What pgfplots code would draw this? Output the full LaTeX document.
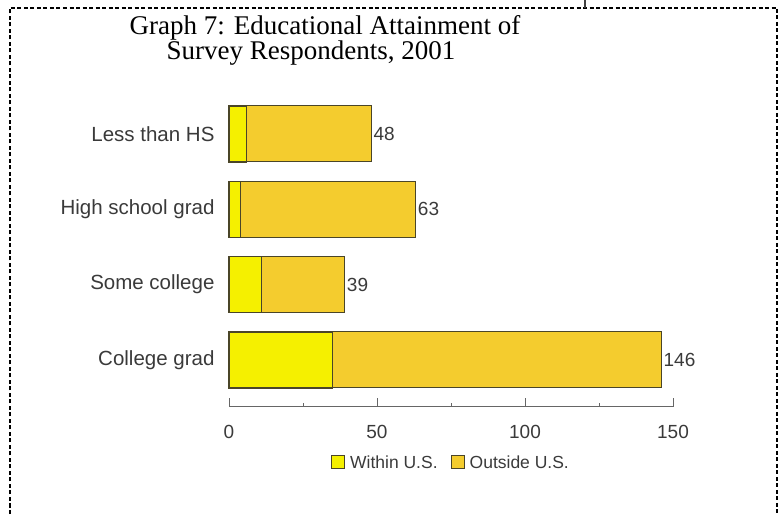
\documentclass[border=0pt]{standalone}
\usepackage{fontspec}
\setmainfont{Liberation Sans}
\newfontfamily\titlefont{Liberation Serif}
\usepackage{pgfplots}
\pgfplotsset{compat=1.18}
\pgfplotsset{nodes near coords xbar stacked configuration/.style={}}
\definecolor{inyel}{HTML}{F5F000}
\definecolor{outgold}{HTML}{F4CC2E}
\definecolor{edge}{HTML}{4A4528}
\definecolor{txt}{HTML}{3A3A3A}
\begin{document}
\begin{tikzpicture}[x=1pt,y=1pt]
\useasboundingbox (0,0) rectangle (779,514);
% frame
\draw[line width=1.3pt, dash pattern=on 4pt off 2.5pt] (10,0) -- (10,506) -- (777,506) -- (777,0);
\draw[line width=1.5pt, black!75] (585,506) -- (585,514);
\node[font=\titlefont\fontsize{27}{30}\selectfont, anchor=base, inner sep=0pt] at (325,479) {Graph 7: Educational Attainment of};
\node[font=\titlefont\fontsize{27}{30}\selectfont, anchor=base, inner sep=0pt] at (311,454) {Survey Respondents, 2001};
\begin{axis}[
  at={(229pt,107.3pt)}, anchor=south west,
  scale only axis, width=444pt, height=317.9pt,
  xbar stacked, bar width=56pt,
  xmin=0, xmax=150, ymin=-0.62, ymax=3.6,
  axis lines*=left,
  y axis line style={draw=none},
  x axis line style={black!60, line width=1pt},
  ytick style={draw=none},
  xtick={0,50,100,150}, minor xtick={25,75,125},
  xtick align=inside,
  x tick style={black!60, line width=1pt},
  major tick length=9pt, minor tick length=4pt,
  /pgf/number format/assume math mode=true,
  ytick={0,1,2,3},
  yticklabels={College grad, Some college, High school grad, Less than HS},
  xticklabel style={font=\fontsize{19}{22}\selectfont, text=txt, yshift=-15pt},
  yticklabel style={font=\fontsize{20.5}{24}\selectfont, text=txt, xshift=-11pt},
  clip=false,
  legend style={at={(0.5,-0.176)}, anchor=center, draw=none, fill=none,
    legend columns=2, font=\fontsize{17.5}{21}\selectfont, text=txt,
    /tikz/every odd column/.append style={column sep=3pt},
    /tikz/every even column/.append style={column sep=11pt}},
  legend image code/.code={\draw[#1, draw=edge, line width=1pt] (0pt,-6pt) rectangle (13pt,7pt);},
]
\addplot[fill=inyel, draw=edge, line width=1.3pt] coordinates {(35,0) (11,1) (4,2) (6,3)};
\addplot[fill=outgold, draw=edge, line width=1pt,
  nodes near coords, point meta=explicit symbolic,
  nodes near coords style={font=\fontsize{19}{22}\selectfont, text=txt, anchor=west, inner sep=2pt}]
  coordinates {(111,0) [146] (28,1) [39] (59,2) [63] (42,3) [48]};
\legend{Within U.S., Outside U.S.}
\end{axis}
\end{tikzpicture}
\end{document}
